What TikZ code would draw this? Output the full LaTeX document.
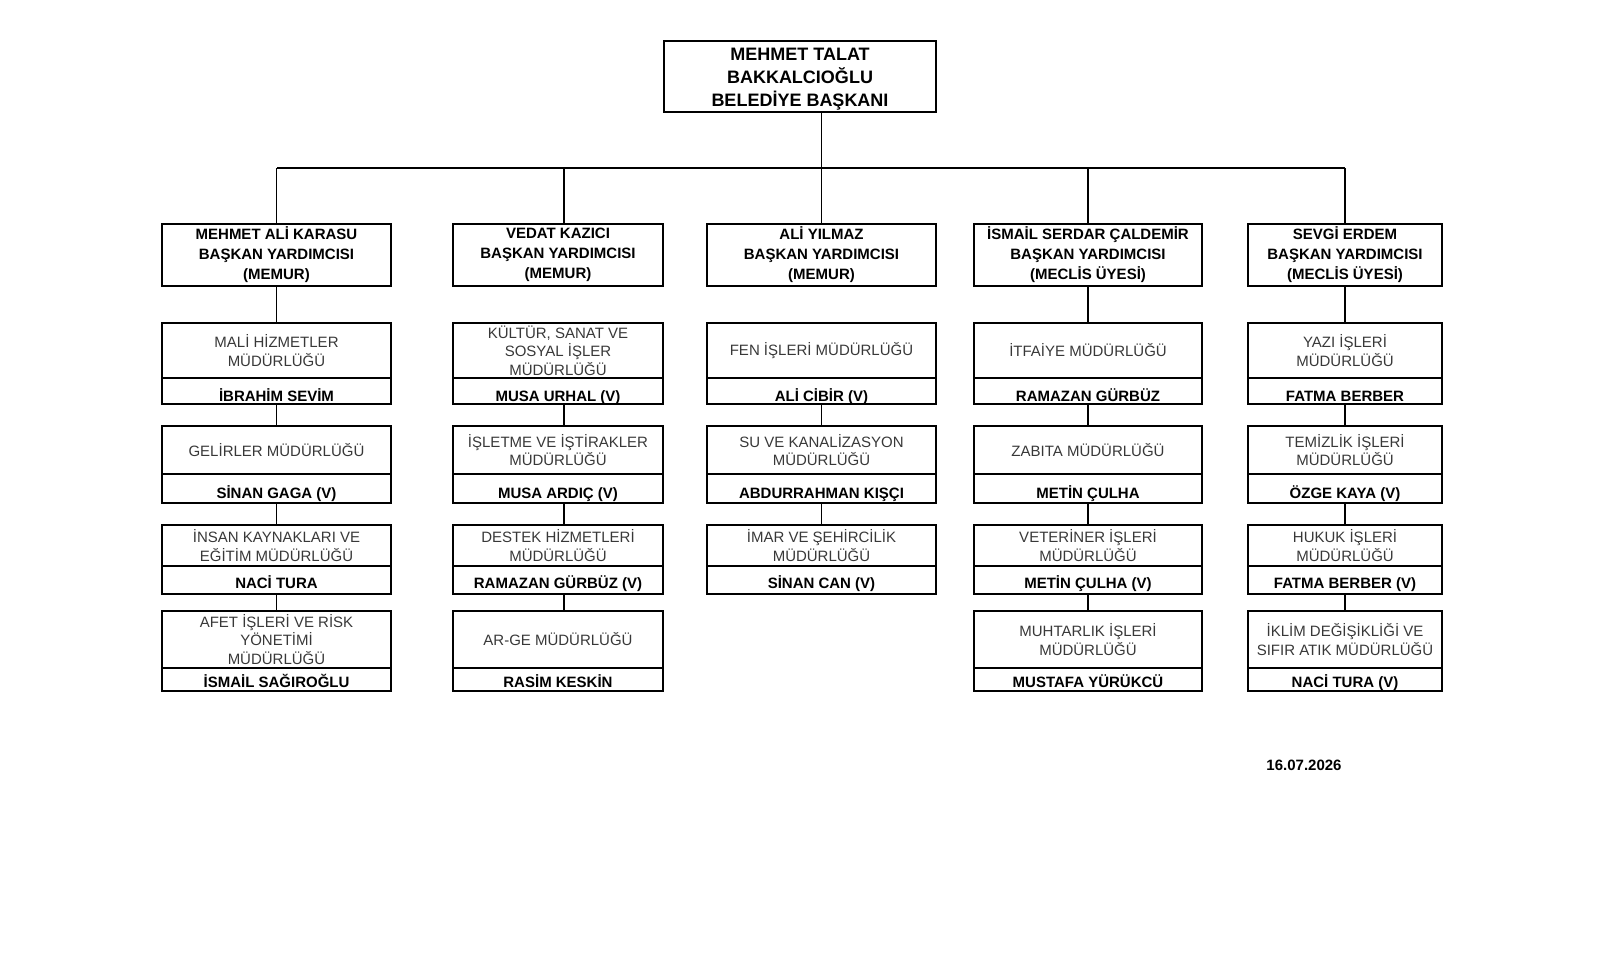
\documentclass[tikz,border=0pt]{standalone}
\usepackage{fontspec}
\setmainfont{Liberation Sans}
\newcommand\dept[9]{%
  \node[upbox, minimum width=#3, minimum height={#5-#4}, anchor=north west] (#1) at (#2,#4) {#7};
  \node[namebox, minimum width=#3, minimum height={#6-#5}, anchor=north west, text height=#9] (#1n) at (#2,#5) {#8};
}
\begin{document}
\begin{tikzpicture}[x=1pt,y=-1pt,
  boxbase/.style={draw, line width=1.6pt, inner sep=0pt, outer sep=0pt, align=center},
  topbox/.style={boxbase, font=\fontsize{18}{23}\selectfont\bfseries},
  vpbox/.style={boxbase, minimum height=62, font=\fontsize{15}{20}\selectfont\bfseries},
  upbox/.style={boxbase, text=black!78, font=\fontsize{15}{18.5}\selectfont},
  namebox/.style={boxbase, text depth=0pt, font=\fontsize{15}{18}\selectfont\bfseries},
  conn/.style={line width=1.4pt},
  datetxt/.style={font=\fontsize{15}{17}\selectfont\bfseries}]
\useasboundingbox (0,0) rectangle (1600,954);

% top
\node[topbox, minimum width=272, minimum height=71, anchor=north west] (mayor) at (664,41)
  {\rule{0pt}{17pt}MEHMET TALAT\\BAKKALCIOĞLU\\BELEDİYE BAŞKANI};

% vice mayors
\node[vpbox, minimum width=229, anchor=north west] (vp1) at (162,224) {MEHMET ALİ KARASU\\BAŞKAN YARDIMCISI\\(MEMUR)};
\node[vpbox, minimum width=210, anchor=north west] (vp2) at (453,224) {VEDAT KAZICI\\BAŞKAN YARDIMCISI\\(MEMUR)};
\node[vpbox, minimum width=229, anchor=north west] (vp3) at (707,224) {ALİ YILMAZ\\BAŞKAN YARDIMCISI\\(MEMUR)};
\node[vpbox, minimum width=228, anchor=north west] (vp4) at (974,224) {İSMAİL SERDAR ÇALDEMİR\\BAŞKAN YARDIMCISI\\(MECLİS ÜYESİ)};
\node[vpbox, minimum width=194, anchor=north west] (vp5) at (1248,224) {SEVGİ ERDEM\\BAŞKAN YARDIMCISI\\(MECLİS ÜYESİ)};

% column 1
\dept{a1}{162}{229}{323}{378}{404}{MALİ HİZMETLER\\MÜDÜRLÜĞÜ}{İBRAHİM SEVİM}{20pt}
\dept{a2}{162}{229}{426}{474}{503}{GELİRLER MÜDÜRLÜĞÜ}{SİNAN GAGA (V)}{20pt}
\dept{a3}{162}{229}{525}{566}{594}{İNSAN KAYNAKLARI VE\\EĞİTİM MÜDÜRLÜĞÜ}{NACİ TURA}{16pt}
\dept{a4}{162}{229}{611}{668}{691}{AFET İŞLERİ VE RİSK\\YÖNETİMİ\\MÜDÜRLÜĞÜ}{İSMAİL SAĞIROĞLU}{16pt}
% column 2
\dept{b1}{453}{210}{323}{378}{404}{KÜLTÜR, SANAT VE\\SOSYAL İŞLER\\MÜDÜRLÜĞÜ}{MUSA URHAL (V)}{20pt}
\dept{b2}{453}{210}{426}{474}{503}{İŞLETME VE İŞTİRAKLER\\MÜDÜRLÜĞÜ}{MUSA ARDIÇ (V)}{20pt}
\dept{b3}{453}{210}{525}{566}{594}{DESTEK HİZMETLERİ\\MÜDÜRLÜĞÜ}{RAMAZAN GÜRBÜZ (V)}{16pt}
\dept{b4}{453}{210}{611}{668}{691}{AR-GE MÜDÜRLÜĞÜ}{RASİM KESKİN}{16pt}
% column 3
\dept{c1}{707}{229}{323}{378}{404}{FEN İŞLERİ MÜDÜRLÜĞÜ}{ALİ CİBİR (V)}{20pt}
\dept{c2}{707}{229}{426}{474}{503}{SU VE KANALİZASYON\\MÜDÜRLÜĞÜ}{ABDURRAHMAN KIŞÇI}{20pt}
\dept{c3}{707}{229}{525}{566}{594}{İMAR VE ŞEHİRCİLİK\\MÜDÜRLÜĞÜ}{SİNAN CAN (V)}{16pt}
% column 4
\dept{d1}{974}{228}{323}{378}{404}{İTFAİYE MÜDÜRLÜĞÜ}{RAMAZAN GÜRBÜZ}{20pt}
\dept{d2}{974}{228}{426}{474}{503}{ZABITA MÜDÜRLÜĞÜ}{METİN ÇULHA}{20pt}
\dept{d3}{974}{228}{525}{566}{594}{VETERİNER İŞLERİ\\MÜDÜRLÜĞÜ}{METİN ÇULHA (V)}{16pt}
\dept{d4}{974}{228}{611}{668}{691}{MUHTARLIK İŞLERİ\\MÜDÜRLÜĞÜ}{MUSTAFA YÜRÜKCÜ}{16pt}
% column 5
\dept{e1}{1248}{194}{323}{378}{404}{YAZI İŞLERİ\\MÜDÜRLÜĞÜ}{FATMA BERBER}{20pt}
\dept{e2}{1248}{194}{426}{474}{503}{TEMİZLİK İŞLERİ\\MÜDÜRLÜĞÜ}{ÖZGE KAYA (V)}{20pt}
\dept{e3}{1248}{194}{525}{566}{594}{HUKUK İŞLERİ\\MÜDÜRLÜĞÜ}{FATMA BERBER (V)}{16pt}
\dept{e4}{1248}{194}{611}{668}{691}{İKLİM DEĞİŞİKLİĞİ VE\\SIFIR ATIK MÜDÜRLÜĞÜ}{NACİ TURA (V)}{16pt}

% date
\node[datetxt] (date) at (1304,765) {16.07.2026};

% connectors
\coordinate (busL) at (277,168);
\coordinate (busR) at (1345,168);
\draw[conn] (busL) -- (busR);
\draw[conn] (vp3.north) -- (vp3.north |- mayor.south);
\draw[conn] (vp1.north) -- (vp1.north |- busL);
\draw[conn] ([xshift=6]vp2.north) -- ([xshift=6]vp2.north |- busL);
\draw[conn] (vp4.north) -- (vp4.north |- busL);
\draw[conn] (vp5.north) -- (vp5.north |- busL);

\draw[conn] (vp1.south) -- (a1.north);
\draw[conn] (a1n.south) -- (a2.north);
\draw[conn] (a2n.south) -- (a3.north);
\draw[conn] (a3n.south) -- (a4.north);

\draw[conn] ([xshift=6]b1n.south) -- ([xshift=6]b2.north);
\draw[conn] ([xshift=6]b2n.south) -- ([xshift=6]b3.north);
\draw[conn] ([xshift=6]b3n.south) -- ([xshift=6]b4.north);

\draw[conn] (c1n.south) -- (c2.north);
\draw[conn] (c2n.south) -- (c3.north);

\draw[conn] (vp4.south) -- (d1.north);
\draw[conn] (d1n.south) -- (d2.north);
\draw[conn] (d2n.south) -- (d3.north);
\draw[conn] (d3n.south) -- (d4.north);

\draw[conn] (vp5.south) -- (e1.north);
\draw[conn] (e1n.south) -- (e2.north);
\draw[conn] (e2n.south) -- (e3.north);
\draw[conn] (e3n.south) -- (e4.north);
\end{tikzpicture}
\end{document}
